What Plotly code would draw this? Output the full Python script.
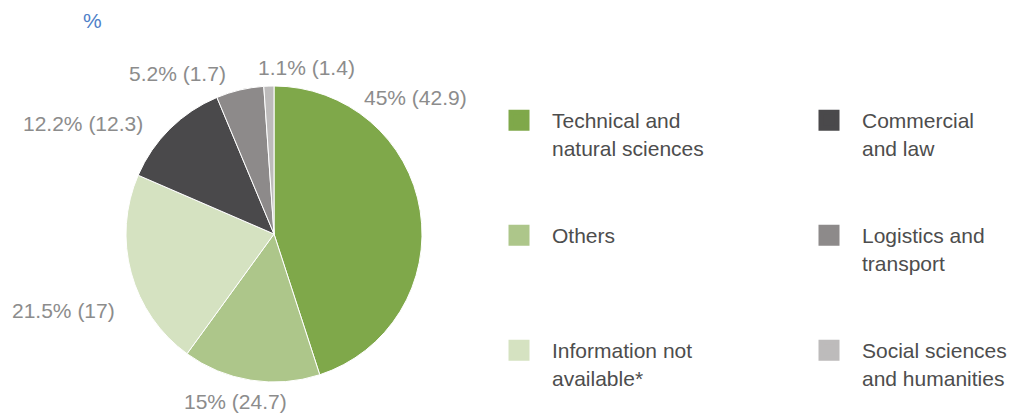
import plotly.graph_objects as go

# ---- data ----
categories = ["Technical and natural sciences", "Others", "Information not available*",
              "Commercial and law", "Logistics and transport", "Social sciences and humanities"]
legend_labels = ["Technical and<br>natural sciences", "Others", "Information not<br>available*",
                 "Commercial<br>and law", "Logistics and<br>transport", "Social sciences<br>and humanities"]
shares = [45, 15, 21.5, 12.2, 5.2, 1.1]
previous = [42.9, 24.7, 17, 12.3, 1.7, 1.4]
colors = ["#7fa84a", "#adc68a", "#d5e2c1", "#4a494b", "#8d8a8a", "#bdbbbb"]

W, H = 1018, 417
LABEL_FONT = dict(family="Liberation Sans, Arial, sans-serif", size=21, color="#8c8c8c")
LEGEND_FONT = dict(family="Liberation Sans, Arial, sans-serif", size=21, color="#4d4d4d")

fig = go.Figure()

# pie: centre (274, 234) px, radius 148 px
fig.add_trace(go.Pie(
    labels=categories, values=shares, sort=False, direction="clockwise", rotation=0,
    marker=dict(colors=colors, line=dict(color="white", width=1)),
    textinfo="none", hoverinfo="label+percent", showlegend=False,
    domain=dict(x=[126 / W, 422 / W], y=[(H - 382) / H, (H - 86) / H]),
))

# slice labels (text positions near the pie, as in the reference)
label_pos = [(415, 98), (235, 401), (63, 310), (83, 124), (177, 73), (306, 67)]
for s, p, (px, py) in zip(shares, previous, label_pos):
    fig.add_annotation(text=f"{s:g}% ({p:g})", x=px / W, y=1 - py / H, xref="paper", yref="paper",
                       xanchor="center", yanchor="middle", showarrow=False, font=LABEL_FONT)

fig.add_annotation(text="%", x=81 / W, y=1 - 20 / H, xref="paper", yref="paper",
                   xanchor="left", yanchor="middle", showarrow=False,
                   font=dict(family="Liberation Sans, Arial, sans-serif", size=21, color="#4f7fc8"))

# legend entries: two columns of three, each in its own legend box
legend_pos = [(486, 100), (486, 215), (486, 330), (796, 100), (796, 215), (796, 330)]
layout_legends = {}
for i, (lab, col, (lx, ly)) in enumerate(zip(legend_labels, colors, legend_pos)):
    name = "legend" if i == 0 else f"legend{i + 1}"
    fig.add_trace(go.Scatter(
        x=[None], y=[None], mode="markers", name=lab, legend=name,
        marker=dict(symbol="square", size=16, color=col, line=dict(color=col, width=5)),
        hoverinfo="skip",
    ))
    layout_legends[name] = dict(
        x=lx / W, y=1 - ly / H, xanchor="left", yanchor="top", xref="paper", yref="paper",
        font=LEGEND_FONT, itemwidth=56, valign="top", bgcolor="rgba(0,0,0,0)",
        borderwidth=0, itemsizing="trace",
    )

fig.update_layout(
    width=W, height=H, margin=dict(l=0, r=0, t=0, b=0),
    paper_bgcolor="white", plot_bgcolor="white",
    xaxis=dict(visible=False), yaxis=dict(visible=False),
    showlegend=True,
    **layout_legends,
)

fig.write_html("out.html", config={"displayModeBar": False},
               post_script="document.body.style.margin='0';")
